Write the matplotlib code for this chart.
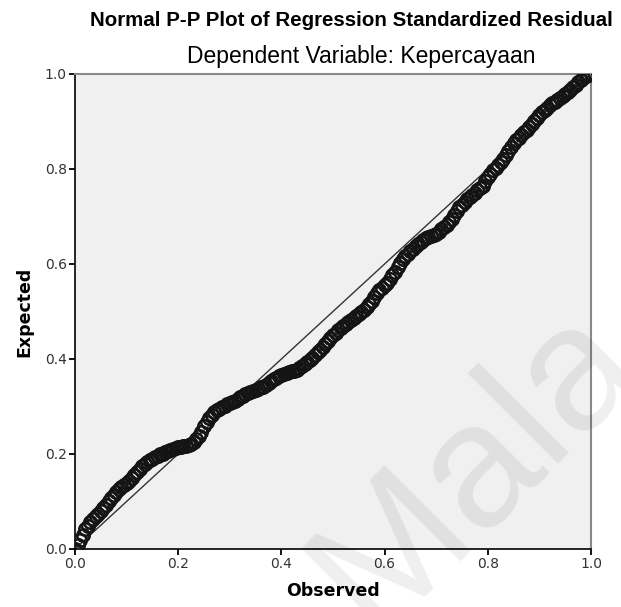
import matplotlib
matplotlib.use("Agg")
import matplotlib.pyplot as plt

# observed cum prob (x) and expected cum prob (y)
observed = [0.000, 0.005, 0.010, 0.015, 0.020, 0.025, 0.030, 0.035, 0.040, 0.045,
            0.050, 0.055, 0.060, 0.065, 0.070, 0.075, 0.080, 0.085, 0.090, 0.095,
            0.100, 0.105, 0.110, 0.115, 0.120, 0.125, 0.130, 0.135, 0.140, 0.145,
            0.150, 0.155, 0.160, 0.165, 0.170, 0.175, 0.180, 0.185, 0.190, 0.195,
            0.200, 0.205, 0.210, 0.215, 0.220, 0.225, 0.230, 0.235, 0.240, 0.245,
            0.250, 0.255, 0.260, 0.265, 0.270, 0.275, 0.280, 0.285, 0.290, 0.295,
            0.300, 0.305, 0.310, 0.315, 0.320, 0.325, 0.330, 0.335, 0.340, 0.345,
            0.350, 0.355, 0.360, 0.365, 0.370, 0.375, 0.380, 0.385, 0.390, 0.395,
            0.400, 0.405, 0.410, 0.415, 0.420, 0.425, 0.430, 0.435, 0.440, 0.445,
            0.450, 0.455, 0.460, 0.465, 0.470, 0.475, 0.480, 0.485, 0.490, 0.495,
            0.500, 0.505, 0.510, 0.515, 0.520, 0.525, 0.530, 0.535, 0.540, 0.545,
            0.550, 0.555, 0.560, 0.565, 0.570, 0.575, 0.580, 0.585, 0.590, 0.595,
            0.600, 0.605, 0.610, 0.615, 0.620, 0.625, 0.630, 0.635, 0.640, 0.645,
            0.650, 0.655, 0.660, 0.665, 0.670, 0.675, 0.680, 0.685, 0.690, 0.695,
            0.700, 0.705, 0.710, 0.715, 0.720, 0.725, 0.730, 0.735, 0.740, 0.745,
            0.750, 0.755, 0.760, 0.765, 0.770, 0.775, 0.780, 0.785, 0.790, 0.795,
            0.800, 0.805, 0.810, 0.815, 0.820, 0.825, 0.830, 0.835, 0.840, 0.845,
            0.850, 0.855, 0.860, 0.865, 0.870, 0.875, 0.880, 0.885, 0.890, 0.895,
            0.900, 0.905, 0.910, 0.915, 0.920, 0.925, 0.930, 0.935, 0.940, 0.945,
            0.950, 0.955, 0.960, 0.965, 0.970, 0.975, 0.980, 0.985, 0.990, 0.995,
            1.000]
expected = [0.000, 0.008, 0.018, 0.030, 0.041, 0.049, 0.056, 0.063, 0.069, 0.074,
            0.080, 0.086, 0.092, 0.100, 0.108, 0.114, 0.120, 0.126, 0.131, 0.135,
            0.139, 0.143, 0.149, 0.156, 0.163, 0.169, 0.175, 0.179, 0.183, 0.187,
            0.190, 0.193, 0.196, 0.199, 0.201, 0.204, 0.206, 0.208, 0.210, 0.212,
            0.214, 0.215, 0.216, 0.217, 0.218, 0.221, 0.226, 0.231, 0.238, 0.247,
            0.258, 0.267, 0.276, 0.283, 0.288, 0.292, 0.295, 0.299, 0.302, 0.305,
            0.307, 0.309, 0.312, 0.315, 0.319, 0.323, 0.326, 0.328, 0.330, 0.332,
            0.335, 0.337, 0.340, 0.342, 0.345, 0.349, 0.353, 0.357, 0.361, 0.364,
            0.367, 0.369, 0.371, 0.373, 0.374, 0.375, 0.377, 0.381, 0.385, 0.389,
            0.394, 0.398, 0.403, 0.408, 0.414, 0.419, 0.425, 0.431, 0.438, 0.444,
            0.450, 0.455, 0.460, 0.465, 0.469, 0.473, 0.477, 0.482, 0.486, 0.490,
            0.494, 0.498, 0.503, 0.509, 0.515, 0.522, 0.530, 0.538, 0.545, 0.550,
            0.555, 0.561, 0.568, 0.576, 0.584, 0.594, 0.603, 0.610, 0.617, 0.622,
            0.627, 0.632, 0.637, 0.642, 0.647, 0.651, 0.654, 0.657, 0.659, 0.661,
            0.664, 0.668, 0.673, 0.678, 0.683, 0.688, 0.694, 0.703, 0.712, 0.719,
            0.725, 0.731, 0.736, 0.741, 0.746, 0.750, 0.755, 0.760, 0.765, 0.774,
            0.783, 0.790, 0.797, 0.803, 0.809, 0.815, 0.822, 0.830, 0.838, 0.847,
            0.855, 0.861, 0.866, 0.872, 0.877, 0.883, 0.889, 0.895, 0.901, 0.907,
            0.913, 0.919, 0.924, 0.929, 0.934, 0.938, 0.942, 0.946, 0.950, 0.954,
            0.958, 0.962, 0.967, 0.972, 0.977, 0.983, 0.988, 0.992, 0.996, 0.998,
            1.000]
ticks = [0.0, 0.2, 0.4, 0.6, 0.8, 1.0]
tick_labels = ["0.0", "0.2", "0.4", "0.6", "0.8", "1.0"]

fig = plt.figure(figsize=(6.21, 6.07), dpi=100)
fig.patch.set_facecolor("white")
ax = fig.add_axes([0.1208, 0.0956, 0.8309, 0.7825])
ax.set_facecolor("#f0f0f0")

# reference line
ax.plot([0, 1], [0, 1], color="#333333", lw=1.0, zorder=2)
# residual points
ax.plot(observed, expected, ls="none", marker="o", ms=9, mfc="none",
        mec="#141414", mew=1.8, zorder=3)

ax.set_xlim(0, 1)
ax.set_ylim(0, 1)
ax.set_xticks(ticks)
ax.set_xticklabels(tick_labels)
ax.set_yticks(ticks)
ax.set_yticklabels(tick_labels)
ax.tick_params(direction="out", length=4, width=1.3, color="black",
               labelsize=10, labelcolor="#333333", pad=2)
for s in ["left", "bottom"]:
    ax.spines[s].set_color("black")
    ax.spines[s].set_linewidth(1.2)
for s in ["top", "right"]:
    ax.spines[s].set_color("#888888")
    ax.spines[s].set_linewidth(1.5)

ax.set_xlabel("Observed", fontsize=12.5, fontweight="bold", labelpad=8)
ax.set_ylabel("Expected", fontsize=12.5, fontweight="bold", labelpad=8)

fig.text(0.566, 0.966, "Normal P-P Plot of Regression Standardized Residual",
         ha="center", va="center", fontsize=14.8, fontweight="bold",
         family="Liberation Sans")
fig.text(0.582, 0.907, "Dependent Variable: Kepercayaan",
         ha="center", va="center", fontsize=16.5, family="Liberation Sans")

# faint watermark
fig.text(0.60, -0.045, "Mala", rotation=45, rotation_mode="anchor",
         ha="left", va="baseline", fontsize=127, family="Liberation Sans",
         color="black", alpha=0.065, zorder=5)

fig.savefig("out.png", dpi=100)
